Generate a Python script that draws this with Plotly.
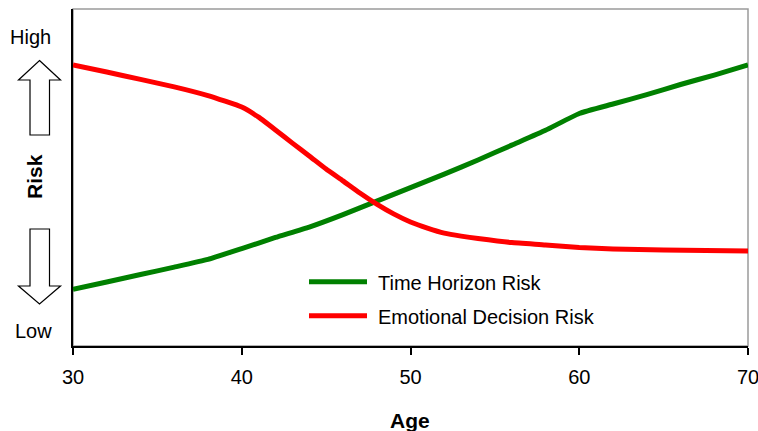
import plotly.graph_objects as go

# Age values and relative risk levels (0 = low, 100 = high)
time_ages = [30, 32, 34, 36, 38, 40, 42, 44, 46, 48, 50, 52, 54, 56, 58, 60, 62, 64, 66, 68, 70]
time_risk = [16.8, 19.0, 21.2, 23.4, 25.7, 28.9, 32.2, 35.3, 39.0, 43.0, 47.0, 51.0, 55.2,
             59.6, 64.0, 69.0, 71.8, 74.6, 77.6, 80.4, 83.4]

emo_ages = [30, 32, 34, 36, 38, 40, 41, 42, 43, 44, 45, 46, 47, 48, 49, 50, 51, 52, 53, 54,
            56, 58, 60, 62, 65, 70]
emo_risk = [83.4, 81.3, 79.1, 76.9, 74.3, 70.9, 67.9, 64.1, 60.2, 56.4, 52.5, 49.0, 45.4, 42.1,
            39.2, 36.8, 35.0, 33.5, 32.6, 31.9, 30.7, 30.0, 29.2, 28.8, 28.5, 28.2]

series_names = ["Time Horizon Risk", "Emotional Decision Risk"]
series_colors = ["#008000", "#FF0000"]
age_ticks = [30, 40, 50, 60, 70]

W, H = 758, 431
ML, MR, MT, MB = 73, 10, 9, 85
PW, PH = W - ML - MR, H - MT - MB
FONT = "Liberation Sans, Arial, sans-serif"


def px(x):
    return (x - ML) / PW


def py(y):
    return (H - MB - y) / PH


def poly(points):
    pts = [f"{px(x):.5f},{py(y):.5f}" for x, y in points]
    return "M" + " L".join(pts) + " Z"


fig = go.Figure()
for xs, ys, name, color in [(time_ages, time_risk, series_names[0], series_colors[0]),
                            (emo_ages, emo_risk, series_names[1], series_colors[1])]:
    fig.add_trace(go.Scatter(x=xs, y=ys, mode="lines", name=name,
                             line=dict(color=color, width=5, shape="spline", smoothing=0.4),
                             showlegend=False))

shapes = [
    # plot frame: grey top/right edges
    dict(type="rect", xref="paper", yref="paper", x0=0, x1=1, y0=0, y1=1,
         line=dict(color="#9a9a9a", width=1.5), layer="below"),
    # up arrow (High)
    dict(type="path", xref="paper", yref="paper",
         path=poly([(39.5, 60.5), (60.5, 80), (49.5, 80), (49.5, 135), (30, 135), (30, 80), (18.5, 80)]),
         line=dict(color="#000000", width=1.2), fillcolor="white"),
    # down arrow (Low)
    dict(type="path", xref="paper", yref="paper",
         path=poly([(30, 229), (49.5, 229), (49.5, 286), (60.5, 286), (39.5, 304), (18.5, 286), (30, 286)]),
         line=dict(color="#000000", width=1.2), fillcolor="white"),
]

annotations = [
    dict(text="High", x=px(30.5), y=py(37)),
    dict(text="Low", x=px(33), y=py(331)),
    dict(text="<b>Risk</b>", x=px(34), y=py(177), textangle=-90),
    dict(text="<b>Age</b>", x=px(410), y=py(420)),
]

# legend block inside the plot
legend_rows = [(281.7, 0), (315.7, 1)]
for ypos, i in legend_rows:
    shapes.append(dict(type="line", xref="paper", yref="paper",
                       x0=px(309), x1=px(367), y0=py(ypos), y1=py(ypos),
                       line=dict(color=series_colors[i], width=5)))
    annotations.append(dict(text=series_names[i], x=px(376), y=py(ypos + 1), xanchor="left"))

for a in annotations:
    a.setdefault("xref", "paper")
    a.setdefault("yref", "paper")
    a.setdefault("xanchor", "center")
    a.setdefault("yanchor", "middle")
    a.setdefault("showarrow", False)
    a.setdefault("font", dict(family=FONT, size=20, color="#000000"))
annotations[2]["font"] = dict(family=FONT, size=21, color="#000000")
annotations[3]["font"] = dict(family=FONT, size=21, color="#000000")

fig.update_layout(
    width=W, height=H,
    margin=dict(l=ML, r=MR, t=MT, b=MB),
    paper_bgcolor="white", plot_bgcolor="white",
    font=dict(family=FONT, size=20, color="#000000"),
    shapes=shapes, annotations=annotations,
    xaxis=dict(range=[30, 70], tickvals=age_ticks, ticks="outside", ticklen=7,
               tickcolor="#000000", tickwidth=1.5, showline=True, linecolor="#000000",
               linewidth=1.5, showgrid=False, zeroline=False, ticklabelstandoff=5,
               ticklabeloverflow="allow", automargin=False,
               tickfont=dict(family=FONT, size=20, color="#000000")),
    yaxis=dict(range=[0, 100], showticklabels=False, ticks="", showline=True,
               linecolor="#000000", linewidth=1.5, showgrid=False, zeroline=False,
               automargin=False),
)

fig.write_html("out.html")
